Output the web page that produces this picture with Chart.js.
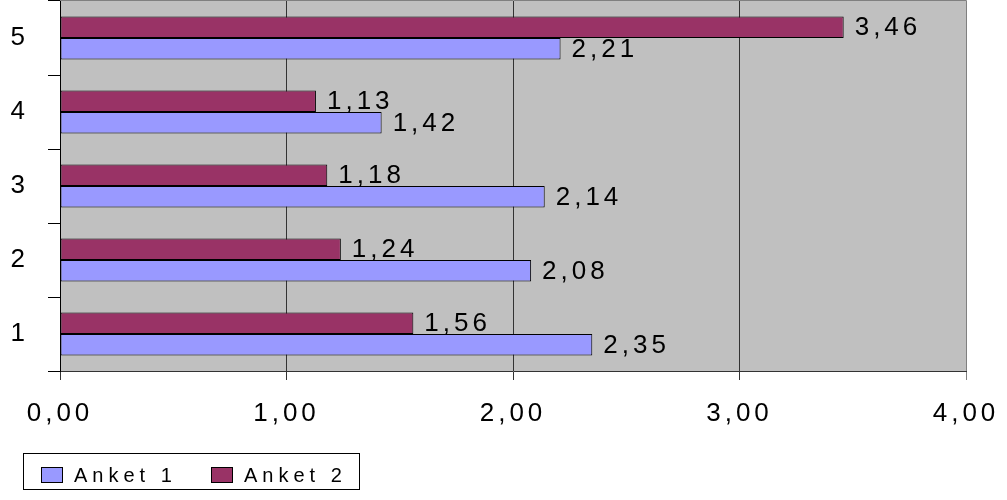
<!DOCTYPE html>
<html>
<head>
<meta charset="utf-8">
<script src="https://cdn.jsdelivr.net/npm/chart.js@4"></script>
<style>
  html, body { margin: 0; padding: 0; background: #ffffff; }
  #wrap { width: 1007px; height: 500px; position: relative; }
  canvas { display: block; }
</style>
</head>
<body>
<div id="wrap"><canvas id="c" width="1007" height="500"></canvas></div>
<script>
const categories = ['1', '2', '3', '4', '5'];
const seriesNames = ['Anket 1', 'Anket 2'];
const anket1 = [2.35, 2.08, 2.14, 1.42, 2.21];
const anket2 = [1.56, 1.24, 1.18, 1.13, 3.46];
const xTickLabels = ['0,00', '1,00', '2,00', '3,00', '4,00'];
const seriesColors = ['#9999FF', '#993366'];

const FONT = "'Liberation Sans', Arial, sans-serif";
const SPACING = '4px';

function fmt(v) { return v.toFixed(2).replace('.', ','); }

const spacingPlugin = {
  id: 'spacing',
  beforeLayout(chart) { chart.ctx.letterSpacing = SPACING; },
  beforeDraw(chart) {
    chart.ctx.letterSpacing = SPACING;
    const a = chart.chartArea, ctx = chart.ctx;
    ctx.save();
    ctx.fillStyle = '#C0C0C0';
    ctx.fillRect(a.left, a.top, a.right - a.left, a.bottom - a.top);
    ctx.restore();
  },
  afterDatasetsDraw(chart) {
    const ctx = chart.ctx;
    ctx.save();
    ctx.letterSpacing = SPACING;
    ctx.font = '26px ' + FONT;
    ctx.fillStyle = '#000';
    ctx.textAlign = 'left';
    ctx.textBaseline = 'middle';
    chart.data.datasets.forEach((ds, i) => {
      const meta = chart.getDatasetMeta(i);
      meta.data.forEach((bar, j) => {
        ctx.fillText(fmt(ds.data[j]), bar.x + 11, bar.y + 1);
      });
    });
    ctx.restore();
  },
  afterDraw(chart) {
    const a = chart.chartArea, ctx = chart.ctx;
    ctx.save();
    ctx.strokeStyle = '#808080';
    ctx.lineWidth = 1;
    ctx.beginPath();
    ctx.moveTo(a.left, 0.5); ctx.lineTo(Math.round(a.right) + 0.5, 0.5);
    ctx.lineTo(Math.round(a.right) + 0.5, a.bottom);
    ctx.stroke();
    // legend with frame, in series order
    const lx = 23.5, ly = 453.5, lw = 336, lh = 36;
    ctx.strokeStyle = '#000';
    ctx.strokeRect(lx, ly, lw, lh);
    ctx.font = '20px ' + FONT;
    ctx.letterSpacing = '5px';
    ctx.textAlign = 'left';
    ctx.textBaseline = 'middle';
    const starts = [41, 211];
    seriesNames.forEach((name, i) => {
      const sx = starts[i];
      ctx.fillStyle = seriesColors[i];
      ctx.fillRect(sx + 0.5, 467.5, 21, 15);
      ctx.strokeStyle = '#000';
      ctx.strokeRect(sx + 0.5, 467.5, 21, 15);
      ctx.fillStyle = '#000';
      ctx.fillText(name, sx + 33, 476);
    });
    ctx.restore();
  }
};

new Chart(document.getElementById('c'), {
  type: 'bar',
  data: {
    labels: categories,
    datasets: [
      { label: seriesNames[1], data: anket2, backgroundColor: seriesColors[1], borderColor: '#000', borderWidth: 1, borderSkipped: false },
      { label: seriesNames[0], data: anket1, backgroundColor: seriesColors[0], borderColor: '#000', borderWidth: 1, borderSkipped: false }
    ]
  },
  options: {
    indexAxis: 'y',
    responsive: false,
    animation: false,
    devicePixelRatio: 1,
    categoryPercentage: 0.584,
    barPercentage: 1.0,
    layout: { padding: { top: 1, right: 41, bottom: 0, left: 0 } },
    plugins: { legend: { display: false }, tooltip: { enabled: false } },
    scales: {
      x: {
        min: 0, max: 4,
        ticks: {
          stepSize: 1,
          color: '#000',
          font: { family: FONT, size: 26 },
          padding: 18,
          maxRotation: 0,
          callback: (v, i) => xTickLabels[i]
        },
        grid: {
          color: (c) => (c.tick && c.tick.value === 4) ? '#808080' : '#333333',
          tickColor: (c) => (c.tick && c.tick.value === 4) ? '#808080' : '#333333',
          tickLength: 9,
          lineWidth: 1
        },
        border: { color: '#333333', width: 1 },
        afterFit: (s) => { s.height = 129; s.paddingLeft = 0; s.paddingRight = 0; }
      },
      y: {
        reverse: true,
        ticks: {
          color: '#000',
          font: { family: FONT, size: 26 },
          padding: 19
        },
        grid: {
          drawOnChartArea: false,
          offset: true,
          color: '#000',
          tickLength: 12
        },
        border: { color: '#000', width: 1 },
        afterFit: (s) => { s.width = 60; s.paddingTop = 0; s.paddingBottom = 0; }
      }
    }
  },
  plugins: [spacingPlugin]
});
</script>
</body>
</html>
